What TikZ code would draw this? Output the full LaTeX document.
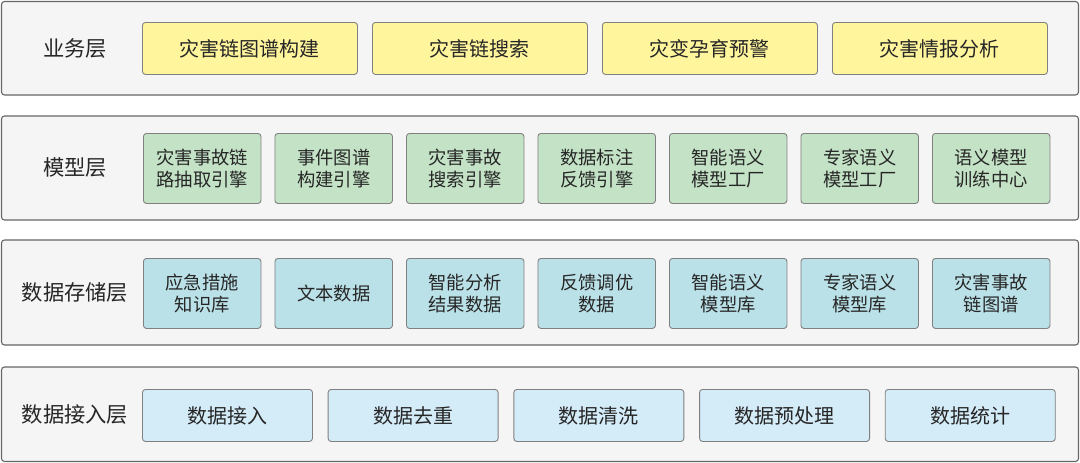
\documentclass[tikz,border=0pt]{standalone}
\usepackage{fontspec}
\setmainfont{Noto Sans CJK SC}
\begin{document}
\begin{tikzpicture}[x=1pt,y=-1pt,
  panel/.style={draw=black!60,fill=black!4,line width=1.1pt,rounded corners=3pt},
  box/.style={draw=black!50,line width=0.9pt,rounded corners=3pt,inner sep=0pt,anchor=north west,align=center,text=black!85},
  bizbox/.style={box,fill=yellowfill,font=\fontsize{20}{22}\selectfont},
  modbox/.style={box,fill=greenfill,font=\fontsize{18.3}{22}\selectfont},
  datbox/.style={box,fill=tealfill,font=\fontsize{18.3}{22}\selectfont},
  accbox/.style={box,fill=bluefill,font=\fontsize{20}{22}\selectfont},
  lab/.style={font=\fontsize{21.3}{24}\selectfont,text=black!85}
]
\definecolor{yellowfill}{HTML}{FFF59D}
\definecolor{greenfill}{HTML}{C4E3C6}
\definecolor{tealfill}{HTML}{BBE1E8}
\definecolor{bluefill}{HTML}{D4EBF8}
\useasboundingbox (0,0) rectangle (1080,463);
% panels
\draw[panel] (1.5,1.5) rectangle (1078.5,95);
\draw[panel] (1.5,116) rectangle (1078.5,220);
\draw[panel] (1.5,240) rectangle (1078.5,345);
\draw[panel] (1.5,367) rectangle (1078.5,461.5);
% labels
\node[lab] (L1) at (75,48) {业务层};
\node[lab] (L2) at (75,168) {模型层};
\node[lab] (L3) at (75,292) {数据存储层};
\node[lab] (L4) at (75,414) {数据接入层};
% business
\foreach \t [count=\i] in {灾害链图谱构建,灾害链搜索,灾变孕育预警,灾害情报分析}{
  \node[bizbox,minimum width=215pt,minimum height=52pt] (b\i) at ({142+230*(\i-1)},22) {\t};
}
% model
\foreach \t [count=\i] in {灾害事故链\\路抽取引擎,事件图谱\\构建引擎,灾害事故\\搜索引擎,数据标注\\反馈引擎,智能语义\\模型工厂,专家语义\\模型工厂,语义模型\\训练中心}{
  \node[modbox,minimum width=117.5pt,minimum height=70pt] (m\i) at ({143+131.5*(\i-1)},133) {\t};
}
% storage
\foreach \t [count=\i] in {应急措施\\知识库,文本数据,智能分析\\结果数据,反馈调优\\数据,智能语义\\模型库,专家语义\\模型库,灾害事故\\链图谱}{
  \node[datbox,minimum width=117.5pt,minimum height=70pt] (d\i) at ({143+131.5*(\i-1)},258) {\t};
}
% access
\foreach \t [count=\i] in {数据接入,数据去重,数据清洗,数据预处理,数据统计}{
  \node[accbox,minimum width=170pt,minimum height=52pt] (a\i) at ({142+185.7*(\i-1)},389) {\t};
}
\end{tikzpicture}
\end{document}
